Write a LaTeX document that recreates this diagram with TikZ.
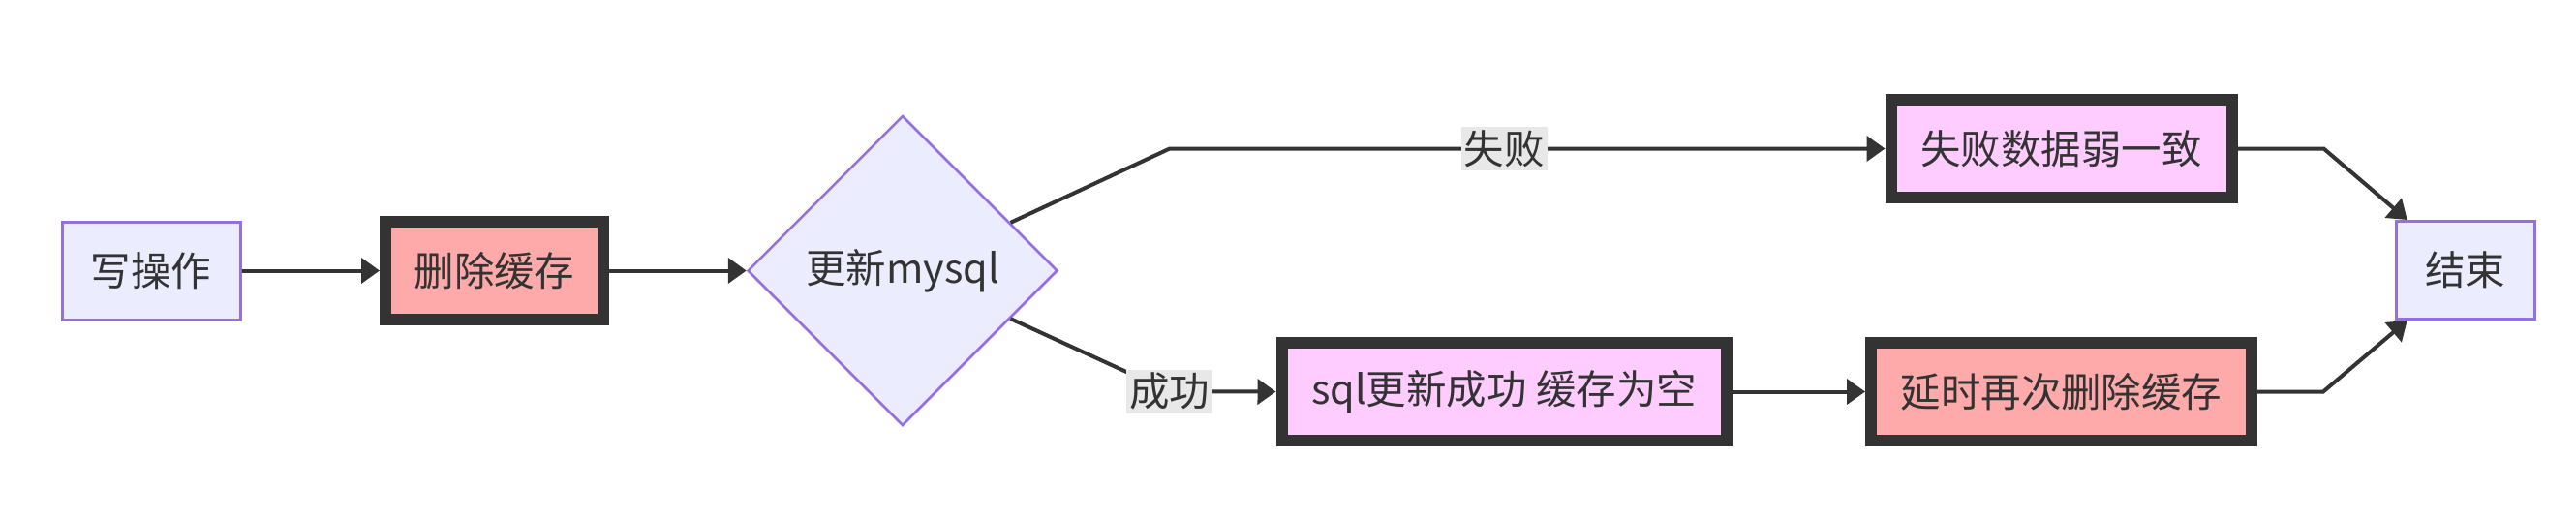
\documentclass[tikz,border=0pt]{standalone}
\usepackage{fontspec}
\setmainfont{Noto Sans CJK SC}
\usepackage{tikz}
\usetikzlibrary{shapes.geometric, arrows.meta, positioning}
\definecolor{lavender}{HTML}{ECECFF}
\definecolor{violetline}{HTML}{9370DB}
\definecolor{darkline}{HTML}{333333}
\definecolor{redfill}{HTML}{FFAAAA}
\definecolor{pinkfill}{HTML}{FFCCFF}
\definecolor{labelbg}{HTML}{E8E8E8}
\tikzstyle{plain} = [rectangle, minimum height = 1.01cm, text centered, draw = violetline, fill = lavender, line width = 0.3mm]
\tikzstyle{heavy} = [rectangle, minimum height = 1.01cm, text centered, draw = darkline, line width = 1.2mm]
\tikzstyle{decision} = [diamond, minimum width = 3.2cm, minimum height = 3.2cm, inner sep = 0pt, text centered, draw = violetline, fill = lavender, line width = 0.25mm]
\tikzstyle{edgelabel} = [rectangle, fill = labelbg, inner sep = 0.3mm]
\tikzstyle{arrow} = [line width = 0.4mm, draw = darkline, ->, > = {Triangle[length = 1.9mm, width = 2.6mm]}]

\begin{document}
\begin{tikzpicture}[node distance = 3cm, font = \fontsize{11.8}{14}\selectfont, text = darkline]
\useasboundingbox (0, 0) rectangle (26.6, 5.36);

%NODES
\node (write) [plain, minimum width = 1.84cm] at (1.56, 2.565) {写操作};
\node (del) [heavy, fill = redfill, minimum width = 2.25cm, right of = write, xshift = 0.545cm] {删除缓存};
\node (decide) [decision, right of = del, xshift = 1.215cm] {更新mysql};
\node (success) [heavy, fill = pinkfill, minimum width = 4.59cm, right of = decide, xshift = 3.21cm, yshift = -1.25cm] {sql更新成功 缓存为空};
\node (delay) [heavy, fill = redfill, minimum width = 3.93cm, right of = success, xshift = 2.755cm] {延时再次删除缓存};
\node (fail) [heavy, fill = pinkfill, minimum width = 3.52cm, above of = delay, yshift = -0.49cm] {失败数据弱一致};
\node (end) [plain, minimum width = 1.43cm, right of = delay, xshift = 1.17cm, yshift = 1.255cm] {结束};

%ARROWS
\draw [arrow] (write.east) -- (del.west);
\draw [arrow] (del.east) -- (decide.west);
\draw [arrow] (decide.24) -- ++(1.64, 0.762) -- node[edgelabel, pos = 0.468] (lfail) {失败} (fail.west);
\draw [arrow] (decide.-24) -- ++(1.64, -0.752) node[edgelabel] (lsuccess) {成功} -- (success.west);
\draw [arrow] (success.east) -- (delay.west);
\draw [arrow] (fail.east) -- ++(0.89, 0) -- (end.139);
\draw [arrow] (delay.east) -- ++(0.68, 0) -- (end.221);

\end{tikzpicture}
\end{document}
